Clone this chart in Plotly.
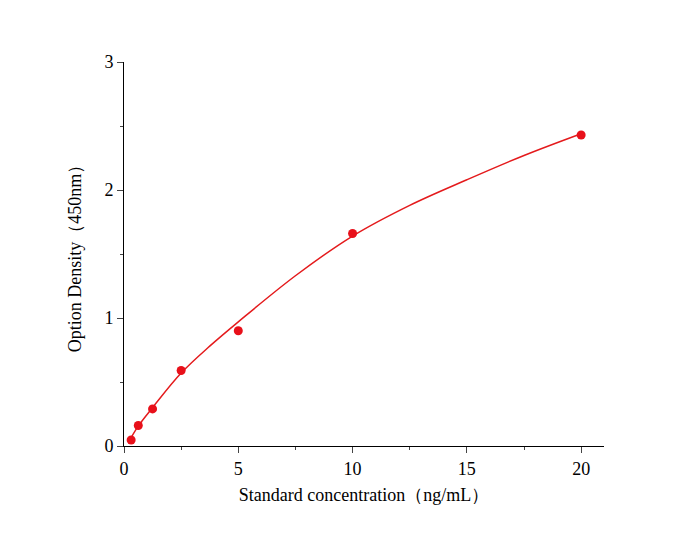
import plotly.graph_objects as go

conc = [0.3125, 0.625, 1.25, 2.5, 5, 10, 20]
od = [0.047, 0.16, 0.29, 0.59, 0.90, 1.66, 2.43]
curve_x = [0.2, 0.6, 1.25, 2.5, 3.75, 5, 7.5, 10, 12.5, 15, 17.5, 20]
curve_y = [0.03, 0.15, 0.30, 0.57, 0.78, 0.97, 1.33, 1.64, 1.88, 2.08, 2.27, 2.44]

fig = go.Figure()
fig.add_trace(go.Scatter(x=curve_x, y=curve_y, mode="lines", line=dict(color="#e41a1c", width=1.5, shape="spline")))
fig.add_trace(go.Scatter(x=conc, y=od, mode="markers", marker=dict(color="#e8101a", size=9)))
font = dict(family="Liberation Serif", size=18, color="black")
fig.update_layout(
    width=700, height=536, showlegend=False, plot_bgcolor="white", paper_bgcolor="white",
    margin=dict(l=116, r=104, t=54, b=98), font=font,
    xaxis=dict(range=[0, 21], tickvals=[0, 5, 10, 15, 20], showline=True, linecolor="black",
               ticks="outside", ticklen=6, showgrid=False, zeroline=False, mirror=False,
               title=dict(text="Standard concentration（ng/mL）", font=font, standoff=10),
               minor=dict(ticks="outside", ticklen=3, dtick=2.5)),
    yaxis=dict(range=[0, 3], tickvals=[0, 1, 2, 3], showline=True, linecolor="black",
               ticks="outside", ticklen=6, showgrid=False, zeroline=False,
               title=dict(text="Option Density（450nm）", font=font, standoff=18),
               minor=dict(ticks="outside", ticklen=3, dtick=0.5)),
)
fig.write_html("out.html")
